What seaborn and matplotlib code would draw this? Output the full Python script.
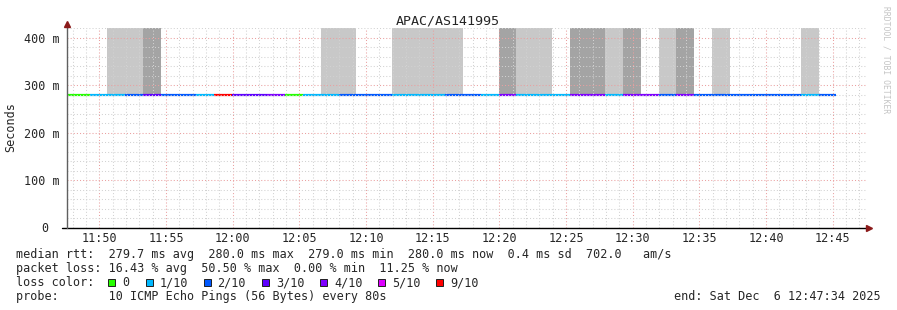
import numpy as np
import pandas as pd
import matplotlib
matplotlib.use("Agg")
import matplotlib.pyplot as plt
import matplotlib.dates as mdates
from matplotlib.patches import Rectangle
from matplotlib.ticker import MultipleLocator, FuncFormatter
import seaborn as sns

# ---------------- data ----------------
title = "APAC/AS141995"
view_start = "2025-12-06 11:47:34"
view_end = "2025-12-06 12:47:34"
first_step = "2025-12-06 11:46:36"
step_seconds = 80

median_rtt_ms = [280, 279, 280, 280, 280, 279, 279, 279, 280, 280, 280,
                 280, 279, 280, 280, 279, 280, 280, 280, 280, 280, 280,
                 280, 280, 280, 280, 280, 279, 280, 279, 279, 280, 279,
                 280, 280, 280, 280, 279, 280, 279, 279, 279, 279, 280]
loss_level = ["0", "0", "1/10", "1/10", "2/10", "3/10", "2/10", "2/10", "1/10", "9/10", "3/10",
              "3/10", "4/10", "0", "1/10", "1/10", "2/10", "2/10", "2/10", "1/10", "1/10", "1/10",
              "2/10", "2/10", "1/10", "4/10", "1/10", "1/10", "1/10", "4/10", "4/10", "1/10", "4/10",
              "4/10", "2/10", "4/10", "2/10", "2/10", "2/10", "2/10", "2/10", "2/10", "1/10", "2/10"]
# smoke shade per step: 0 none, 1 light, 2 dark
smoke_level = [0, 0, 0, 1, 1, 2, 0, 0, 0, 0, 0,
               0, 0, 0, 0, 1, 1, 0, 0, 1, 1, 1,
               1, 0, 0, 2, 1, 1, 0, 2, 2, 1, 2,
               0, 1, 2, 0, 1, 0, 0, 0, 0, 1, 0]

loss_names = ["0", "1/10", "2/10", "3/10", "4/10", "5/10", "9/10"]
loss_colors = ["#26ff00", "#00b8ff", "#0059ff", "#5e00ff", "#7e00ff", "#dd00ff", "#ff0000"]

stat_rtt = "median rtt:  279.7 ms avg  280.0 ms max  279.0 ms min  280.0 ms now  0.4 ms sd  702.0   am/s"
stat_loss = "packet loss: 16.43 % avg  50.50 % max  0.00 % min  11.25 % now"
probe_text = "probe:       10 ICMP Echo Pings (56 Bytes) every 80s"
end_text = "end: Sat Dec  6 12:47:34 2025"
y_label = "Seconds"
watermark = "RRDTOOL / TOBI OETIKER"

# ---------------- build ----------------
W, H = 897, 310
Y_TOP = 421.05
n = len(median_rtt_ms)
starts = pd.date_range(first_step, periods=n, freq=f"{step_seconds}s")
ends = starts + pd.Timedelta(seconds=step_seconds)
s_num = mdates.date2num(starts.to_pydatetime())
e_num = mdates.date2num(ends.to_pydatetime())

rows = []
for i in range(n):
    rows.append(dict(t=s_num[i], rtt=median_rtt_ms[i], loss=loss_level[i], seg=i))
    rows.append(dict(t=e_num[i], rtt=median_rtt_ms[i], loss=loss_level[i], seg=i))
df = pd.DataFrame(rows)
palette = dict(zip(loss_names, loss_colors))

sns.set_theme(style="white")
plt.rcParams["font.family"] = ["DejaVu Sans Mono", "DejaVu Sans"]
MONO = "DejaVu Sans Mono"
FS = 8.45

fig = plt.figure(figsize=(W / 100, H / 100), dpi=100)
fig.patch.set_facecolor("white")
ax = fig.add_axes([67 / W, (H - 228) / H, 800 / W, 200 / H])
ax.set_facecolor("white")

# smoke
smoke_colors = {1: "#c8c8c8", 2: "#a4a4a4"}
for lvl, col in smoke_colors.items():
    idx = [i for i in range(n) if smoke_level[i] == lvl]
    ax.bar([s_num[i] for i in idx], [Y_TOP + 10 - median_rtt_ms[i] for i in idx],
           width=step_seconds / 86400.0, bottom=[median_rtt_ms[i] for i in idx],
           align="edge", color=col, linewidth=0, zorder=1)

# median line coloured by loss
sns.lineplot(data=df, x="t", y="rtt", hue="loss", units="seg", estimator=None,
             palette=palette, legend=False, lw=1.6, ax=ax, zorder=2,
             solid_capstyle="butt")

ax.set_xlim(mdates.date2num(pd.Timestamp(view_start).to_pydatetime()),
            mdates.date2num(pd.Timestamp(view_end).to_pydatetime()))
ax.set_ylim(0, Y_TOP)

ax.xaxis.set_major_locator(mdates.MinuteLocator(byminute=range(0, 60, 5)))
ax.xaxis.set_minor_locator(mdates.MinuteLocator())
ax.xaxis.set_major_formatter(mdates.DateFormatter("%H:%M"))
ax.yaxis.set_major_locator(MultipleLocator(100))
ax.yaxis.set_minor_locator(MultipleLocator(20))
ax.yaxis.set_major_formatter(FuncFormatter(lambda v, p: "" if v == 0 else f"{int(v)} m"))

ax.set_axisbelow(False)
ax.grid(which="minor", color="#d2d2d2", linestyle=(0, (1, 2)), lw=0.75)
ax.grid(which="major", color="#eaa0a0", linestyle=(0, (1, 2)), lw=0.75)

ax.tick_params(axis="both", which="both", length=0)
ax.tick_params(axis="x", pad=3, labelsize=FS)
ax.tick_params(axis="y", pad=5, labelsize=FS)
for lab in ax.get_xticklabels() + ax.get_yticklabels():
    lab.set_family(MONO)
ax.text(-19 / 800, 0, "0", transform=ax.get_yaxis_transform(), ha="right", va="center",
        family=MONO, size=FS)
ax.set_xlabel("")
ax.set_ylabel("")

for sp in ax.spines.values():
    sp.set_visible(False)
# axes lines with arrows
ax.plot([-5 / 800, 1.0], [0, 0], transform=ax.transAxes, clip_on=False, color="black", lw=1, zorder=5)
ax.plot([0, 0], [0, 1.02], transform=ax.transAxes, clip_on=False, color="#606060", lw=1, zorder=5)
ax.plot([1.0025], [0], marker=">", transform=ax.transAxes, clip_on=False, color="#8b1a1a", ms=4, zorder=6)
ax.plot([0], [1.02], marker="^", transform=ax.transAxes, clip_on=False, color="#8b1a1a", ms=4, zorder=6)

def fx(x):
    return x / W

def fy(y):
    return 1 - y / H

fig.text(fx(448), fy(24), title, ha="center", va="baseline", family=MONO, size=9.6)
fig.text(fx(11), fy(127), y_label, ha="center", va="center", rotation=90, family=MONO, size=FS)
fig.text(fx(886), fy(60), watermark, ha="center", va="center", rotation=270, family=MONO,
         size=5.8, color="#c4c4c4")

fig.text(fx(16), fy(258), stat_rtt, ha="left", va="baseline", family=MONO, size=FS)
fig.text(fx(16), fy(272), stat_loss, ha="left", va="baseline", family=MONO, size=FS)
fig.text(fx(16), fy(286), "loss color:", ha="left", va="baseline", family=MONO, size=FS)
fig.text(fx(16), fy(300), probe_text, ha="left", va="baseline", family=MONO, size=FS)
fig.text(fx(881), fy(300), end_text, ha="right", va="baseline", family=MONO, size=FS)

square_x = [108, 146, 203.5, 262, 320, 378, 436]
for sx, name, col in zip(square_x, loss_names, loss_colors):
    fig.add_artist(Rectangle((fx(sx), fy(285.5)), 7 / W, 7 / H, transform=fig.transFigure,
                             facecolor=col, edgecolor="#202020", lw=0.7))
    fig.text(fx(sx + 14), fy(286), name, ha="left", va="baseline", family=MONO, size=FS)

fig.savefig("out.png", dpi=100, facecolor="white")
